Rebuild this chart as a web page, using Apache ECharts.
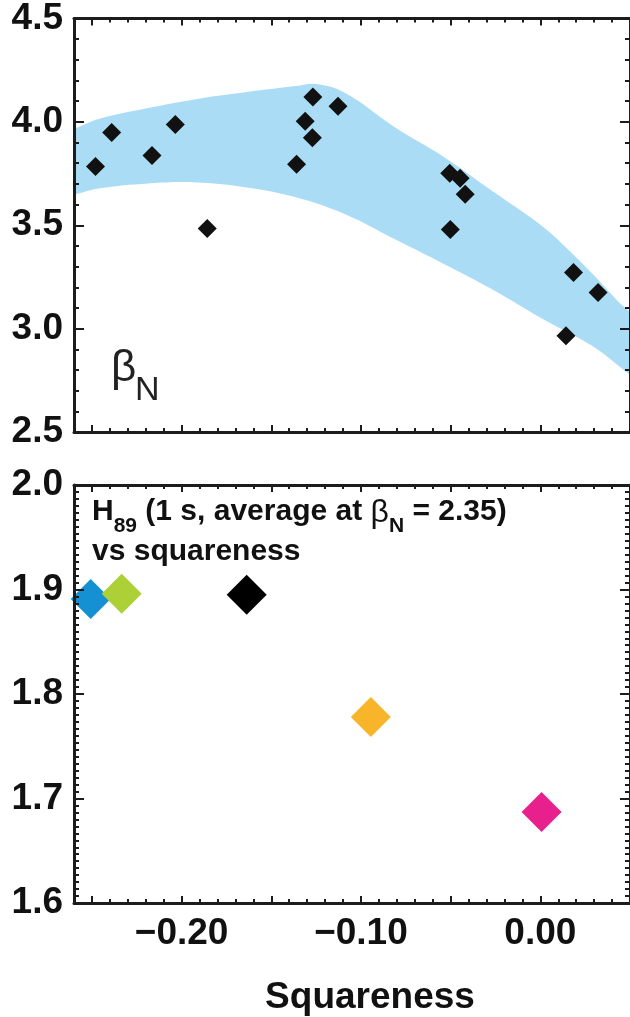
<!DOCTYPE html>
<html>
<head>
<meta charset="utf-8">
<script src="https://cdn.jsdelivr.net/npm/echarts@6/dist/echarts.min.js"></script>
<style>
  html, body { margin: 0; padding: 0; background: #fff; }
  #chart { width: 630px; height: 1017px; }
</style>
</head>
<body>
<div id="chart"></div>
<script>
// Upper panel: normalized beta versus plasma squareness, with the shaded operating range.
const betaSquareness = [-0.248, -0.239, -0.2165, -0.2035, -0.1857, -0.1359, -0.1311, -0.1268, -0.1271, -0.1128,
                        -0.0505, -0.0447, -0.0419, -0.0502, 0.0185, 0.0322, 0.0143];
const betaN = [3.784, 3.949, 3.837, 3.987, 3.484, 3.795, 4.003, 4.120, 3.923, 4.075,
               3.751, 3.727, 3.650, 3.479, 3.271, 3.175, 2.966];

// Edges of the shaded band (squareness, betaN)
const bandUpperSq = [-0.28, -0.2604, -0.2462, -0.2187, -0.1912, -0.1637, -0.1363, -0.1253, -0.1088,
                     -0.0813, -0.0538, -0.0264, 0.0011, 0.0176, 0.0286, 0.0505, 0.07];
const bandUpper = [3.93, 3.966, 4.014, 4.067, 4.111, 4.144, 4.173, 4.183, 4.140,
                   3.975, 3.830, 3.663, 3.495, 3.365, 3.269, 3.077, 2.98];
const bandLowerSq = [-0.28, -0.2604, -0.2462, -0.2187, -0.1912, -0.1637, -0.1363, -0.1088, -0.0813,
                     -0.0538, -0.0264, 0.0011, 0.0286, 0.0505, 0.07];
const bandLower = [3.63, 3.649, 3.678, 3.702, 3.707, 3.683, 3.635, 3.553, 3.433,
                   3.313, 3.188, 3.048, 2.918, 2.774, 2.66];

// Lower panel: H89 confinement factor (1 s average at betaN = 2.35) versus squareness
const h89Squareness = [-0.2507, -0.2334, -0.1637, -0.0945, 0.0007];
const h89 = [1.891, 1.896, 1.895, 1.778, 1.687];
const h89Colors = ['#1590d3', '#acd036', '#000000', '#f9b52a', '#e8208e'];

// Axis ticks and labels
const sqRange = [-0.26, 0.05];
const sqLabelValues = [-0.20, -0.10, 0.00];
const sqMajorTicks = [-0.25, -0.20, -0.15, -0.10, -0.05, 0.00, 0.05];
const sqMinorTicks = [];
for (let k = -26; k <= 5; k++) sqMinorTicks.push(k / 100);
const betaRange = [2.5, 4.5];
const h89Range = [1.6, 2.0];

const FONT = "'Liberation Sans', Arial, sans-serif";
const AX = '#1c1c1c';
const BAND = '#aadcf5';

function fmtSq(v) {
  const a = Math.abs(v).toFixed(2);
  return v < -1e-9 ? '\u2212' + a : a;
}

function xAxes(grid, pos, withLabels) {
  const main = {
    type: 'value', gridIndex: grid, position: pos, min: sqRange[0], max: sqRange[1], z: 5,
    axisLine: { show: true, onZero: false, lineStyle: { color: AX, width: 3 } },
    splitLine: { show: false },
    axisTick: { show: true, inside: true, length: 7, lineStyle: { color: AX, width: 2 }, customValues: sqMajorTicks },
    axisLabel: {
      show: withLabels, customValues: sqLabelValues, formatter: fmtSq,
      fontFamily: FONT, fontWeight: 'bold', fontSize: 37, color: '#111', margin: 12
    }
  };
  if (withLabels) {
    main.name = 'Squareness';
    main.nameLocation = 'middle';
    main.nameGap = 76;
    main.nameTextStyle = { fontFamily: FONT, fontWeight: 'bold', fontSize: 37, color: '#111', padding: [0, 0, 0, 36] };
  }
  const minor = {
    type: 'value', gridIndex: grid, position: pos, min: sqRange[0], max: sqRange[1], z: 5,
    axisLine: { show: false, onZero: false },
    splitLine: { show: false },
    axisTick: { show: true, inside: true, length: 4, lineStyle: { color: AX, width: 2 }, customValues: sqMinorTicks },
    axisLabel: { show: false }
  };
  return [main, minor];
}

function yAxes(grid, range, step, minorSplit) {
  const common = {
    type: 'value', gridIndex: grid, min: range[0], max: range[1], interval: step, z: 5,
    axisLine: { show: true, onZero: false, lineStyle: { color: AX, width: 3 } },
    splitLine: { show: false },
    axisTick: { show: true, inside: true, length: 10, lineStyle: { color: AX, width: 2 } },
    minorTick: { show: true, splitNumber: minorSplit, length: 5, lineStyle: { color: AX, width: 2 } }
  };
  return [
    Object.assign({}, common, {
      position: 'left',
      axisLabel: { formatter: v => v.toFixed(1), fontFamily: FONT, fontWeight: 'bold', fontSize: 37, color: '#111', margin: 11 }
    }),
    Object.assign({}, common, { position: 'right', axisLabel: { show: false } })
  ];
}

const chart = echarts.init(document.getElementById('chart'), null, { renderer: 'canvas' });

chart.setOption({
  backgroundColor: '#fff',
  animation: false,
  grid: [
    { left: 74, right: -9, top: 16, height: 416 },
    { left: 74, right: -9, top: 485, height: 418 }
  ],
  xAxis: [
    ...xAxes(0, 'bottom', false),
    ...xAxes(0, 'top', false),
    ...xAxes(1, 'bottom', true),
    ...xAxes(1, 'top', false)
  ],
  yAxis: [
    ...yAxes(0, betaRange, 0.5, 5),
    ...yAxes(1, h89Range, 0.1, 15)
  ],
  series: [
    {
      type: 'custom',
      xAxisIndex: 0, yAxisIndex: 0,
      clip: true,
      z: 1,
      data: [0],
      renderItem: function (params, api) {
        const pts = [];
        for (let i = 0; i < bandUpperSq.length; i++) pts.push(api.coord([bandUpperSq[i], bandUpper[i]]));
        for (let i = bandLowerSq.length - 1; i >= 0; i--) pts.push(api.coord([bandLowerSq[i], bandLower[i]]));
        const cs = params.coordSys;
        return {
          type: 'polygon',
          shape: { points: pts, smooth: 0.4 },
          style: { fill: BAND },
          clipPath: { type: 'rect', shape: { x: cs.x, y: cs.y, width: cs.width, height: cs.height } }
        };
      }
    },
    {
      type: 'scatter',
      xAxisIndex: 0, yAxisIndex: 0,
      symbol: 'diamond', symbolSize: 19, z: 4,
      itemStyle: { color: '#111', opacity: 1 },
      data: betaSquareness.map((x, i) => [x, betaN[i]])
    },
    {
      type: 'scatter',
      xAxisIndex: 4, yAxisIndex: 2,
      symbol: 'diamond', symbolSize: 40, z: 4,
      data: h89Squareness.map((x, i) => ({ value: [x, h89[i]], itemStyle: { color: h89Colors[i], opacity: 1 } }))
    }
  ],
  graphic: [
    { type: 'text', left: 111, top: 347, z: 10,
      style: { text: '\u03b2', font: "44px " + FONT, fill: '#222' } },
    { type: 'text', left: 135, top: 374, z: 10,
      style: { text: 'N', font: "34px " + FONT, fill: '#222' } },
    { type: 'text', left: 92, top: 497, z: 10,
      style: {
        text: '{m|H}{s|89}{m| (1 s, average at }{b|\u03b2}{s|N}{m| = 2.35)}\n{m|vs squareness}',
        rich: {
          m: { fontFamily: FONT, fontWeight: 'bold', fontSize: 30, lineHeight: 40, fill: '#111', verticalAlign: 'top' },
          b: { fontFamily: FONT, fontWeight: 'normal', fontSize: 32, lineHeight: 40, fill: '#111', verticalAlign: 'top' },
          s: { fontFamily: FONT, fontWeight: 'bold', fontSize: 21, lineHeight: 21, fill: '#111', verticalAlign: 'bottom' }
        }
      } }
  ]
});
</script>
</body>
</html>
